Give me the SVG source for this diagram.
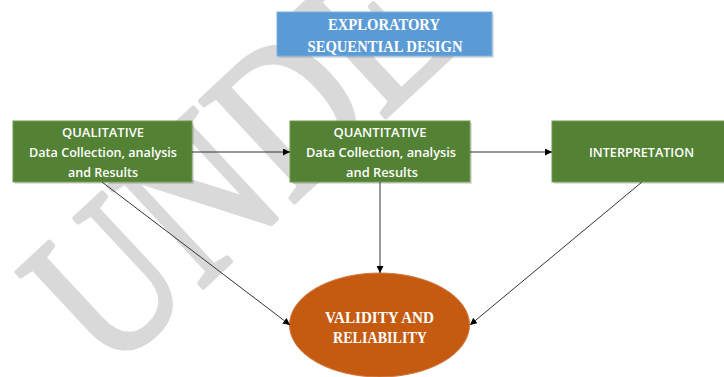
<svg xmlns="http://www.w3.org/2000/svg" width="724" height="377" viewBox="0 0 724 377">
<style>
.wm{font-family:"Liberation Serif","Times New Roman",serif;font-size:192px;fill:#d9d9d9;stroke:#d9d9d9;stroke-width:4;stroke-linejoin:round}
.box{fill:#548235;stroke:#6f9a4f;stroke-width:1}
.shadow{fill:#000;opacity:0.12}
.t{font-family:"Open Sans","Liberation Sans",Arial,sans-serif;font-size:13px;font-weight:600;fill:#ffffff;text-anchor:middle}
.s{font-family:"Liberation Serif","Times New Roman",serif;font-size:17px;fill:#ffffff;text-anchor:middle;font-weight:bold}
.c{stroke:#333333;stroke-width:1;fill:none}
</style>
<defs>
<marker id="ah" viewBox="0 0 10 10" refX="10" refY="5" markerWidth="7" markerHeight="7" markerUnits="userSpaceOnUse" orient="auto">
<path d="M0,0 L10,5 L0,10 z" fill="#000"/>
</marker>
</defs>
<rect width="724" height="377" fill="#ffffff"/>
<g id="watermark">
<text class="wm" transform="translate(108,376) rotate(-43) scale(0.9,1.1)">UNDE</text>
</g>
<g id="title">
<rect class="shadow" x="279" y="14" width="215" height="44"/>
<rect x="277" y="12" width="215" height="44" fill="#5b9bd5" stroke="#7aafe0" stroke-width="1"/>
<text class="s" x="384" y="30" textLength="112" lengthAdjust="spacingAndGlyphs">EXPLORATORY</text>
<text class="s" x="385" y="52" textLength="155" lengthAdjust="spacingAndGlyphs">SEQUENTIAL DESIGN</text>
</g>
<g id="qualitative">
<rect class="shadow" x="15" y="123" width="179" height="61"/>
<rect class="box" x="13" y="121" width="179" height="61"/>
<text class="t" x="103" y="136.5" textLength="82" lengthAdjust="spacingAndGlyphs">QUALITATIVE</text>
<text class="t" x="103" y="157" textLength="148" lengthAdjust="spacingAndGlyphs">Data Collection, analysis</text>
<text class="t" x="103" y="177" textLength="70" lengthAdjust="spacingAndGlyphs">and Results</text>
</g>
<g id="quantitative">
<rect class="shadow" x="292" y="123" width="180" height="61"/>
<rect class="box" x="290" y="121" width="180" height="61"/>
<text class="t" x="380" y="136.5" textLength="93" lengthAdjust="spacingAndGlyphs">QUANTITATIVE</text>
<text class="t" x="381" y="157" textLength="150" lengthAdjust="spacingAndGlyphs">Data Collection, analysis</text>
<text class="t" x="382" y="177" textLength="72" lengthAdjust="spacingAndGlyphs">and Results</text>
</g>
<g id="interpretation">
<rect class="shadow" x="554" y="123" width="180" height="61"/>
<rect class="box" x="552" y="121" width="180" height="61"/>
<text class="t" x="641.5" y="157" textLength="105" lengthAdjust="spacingAndGlyphs">INTERPRETATION</text>
</g>
<g id="validity">
<ellipse cx="379.5" cy="325" rx="90" ry="52" fill="#c55a11" stroke="#d27a40" stroke-width="1"/>
<text class="s" x="379.5" y="323" textLength="109" lengthAdjust="spacingAndGlyphs">VALIDITY AND</text>
<text class="s" x="380" y="343" textLength="94" lengthAdjust="spacingAndGlyphs">RELIABILITY</text>
</g>
<g id="connectors">
<line class="c" x1="192" y1="152" x2="290" y2="152" marker-end="url(#ah)"/>
<line class="c" x1="470" y1="152" x2="552" y2="152" marker-end="url(#ah)"/>
<line class="c" x1="380" y1="182" x2="380" y2="273" marker-end="url(#ah)"/>
<line class="c" x1="102" y1="182" x2="290" y2="325" marker-end="url(#ah)"/>
<line class="c" x1="642" y1="182" x2="470" y2="325" marker-end="url(#ah)"/>
</g>
</svg>
